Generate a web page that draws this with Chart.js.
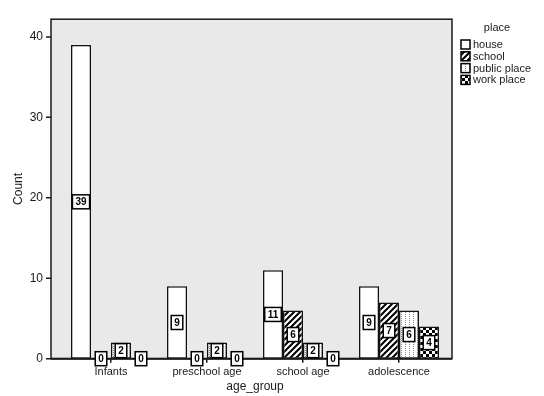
<!DOCTYPE html>
<html>
<head>
<meta charset="utf-8">
<script src="https://cdn.jsdelivr.net/npm/chart.js@4.4.0/dist/chart.umd.min.js"></script>
<style>
  html, body { margin: 0; padding: 0; background: #fff; }
</style>
</head>
<body>
<canvas id="chart" width="544" height="396"></canvas>
<script>
// data
const ageGroups = ['Infants', 'preschool age', 'school age', 'adolescence'];
const places = ['house', 'school', 'public place', 'work place'];
const houseCounts = [39, 9, 11, 9];
const schoolCounts = [0, 0, 6, 7];
const publicPlaceCounts = [2, 2, 2, 6];
const workPlaceCounts = [0, 0, 0, 4];
const yTicks = [0, 10, 20, 30, 40];
const yMax = 42.2;

const FONT = "'Liberation Sans', Arial, sans-serif";
const INK = '#1a1a1a';

// fill patterns like the SPSS output
function makePattern(kind) {
    const c = document.createElement('canvas');
    const w = kind === 'dots' ? 4 : 6;
    const h = kind === 'dots' ? 2 : 6;
    c.width = w; c.height = h;
    const g = c.getContext('2d');
    g.fillStyle = '#fff';
    g.fillRect(0, 0, w, h);
    if (kind === 'stripes') {
        g.strokeStyle = '#000';
        g.lineWidth = 2;
        g.beginPath();
        g.moveTo(-1, h + 1); g.lineTo(w + 1, -1);
        g.moveTo(-1, 1); g.lineTo(1, -1);
        g.moveTo(w - 1, h + 1); g.lineTo(w + 1, h - 1);
        g.stroke();
    } else if (kind === 'dots') {
        g.fillStyle = '#8a8a8a';
        g.fillRect(1, 0, 1, 1);
    } else if (kind === 'checks') {
        g.fillStyle = '#000';
        g.fillRect(0, 0, 3, 3);
        g.fillRect(3, 3, 3, 3);
    }
    return g.createPattern(c, 'repeat');
}

const fills = ['#ffffff', makePattern('stripes'), makePattern('dots'), makePattern('checks')];
const seriesData = [houseCounts, schoolCounts, publicPlaceCounts, workPlaceCounts];

// grey plot frame, extends a bit past the category range like SPSS
const framePlugin = {
    id: 'frame',
    beforeDraw(chart) {
        const { ctx, chartArea: a } = chart;
        const left = a.left - 12, right = a.right + 5;
        ctx.save();
        ctx.fillStyle = '#e9e9e9';
        ctx.fillRect(left, a.top, right - left, a.bottom - a.top);
        ctx.strokeStyle = INK;
        ctx.lineWidth = 1.5;
        ctx.strokeRect(left, a.top, right - left, a.bottom - a.top);
        // y tick marks on the frame edge
        const y = chart.scales.y;
        ctx.beginPath();
        yTicks.forEach(v => {
            const py = y.getPixelForValue(v);
            ctx.moveTo(left - 5, py);
            ctx.lineTo(left, py);
        });
        ctx.stroke();
        ctx.restore();
    },
    afterDatasetsDraw(chart) {
        const { ctx, chartArea: a } = chart;
        ctx.save();
        ctx.strokeStyle = INK;
        ctx.lineWidth = 2;
        ctx.beginPath();
        ctx.moveTo(a.left - 12, a.bottom);
        ctx.lineTo(a.right + 5, a.bottom);
        ctx.stroke();
        ctx.restore();
    }
};

// boxed count labels in the middle of each bar
const countLabels = {
    id: 'countLabels',
    afterDatasetsDraw(chart) {
        const { ctx } = chart;
        ctx.save();
        ctx.font = 'bold 10px ' + FONT;
        ctx.textAlign = 'center';
        ctx.textBaseline = 'middle';
        chart.data.datasets.forEach((ds, i) => {
            chart.getDatasetMeta(i).data.forEach((bar, j) => {
                const txt = String(ds.data[j]);
                const cx = bar.x;
                const cy = (bar.y + bar.base) / 2;
                const w = Math.max(ctx.measureText(txt).width + 6, 10);
                const h = 14;
                ctx.fillStyle = '#fff';
                ctx.fillRect(cx - w / 2, cy - h / 2, w, h);
                ctx.strokeStyle = '#000';
                ctx.lineWidth = 1.5;
                ctx.strokeRect(cx - w / 2, cy - h / 2, w, h);
                ctx.fillStyle = '#000';
                ctx.fillText(txt, cx, cy + 0.5);
            });
        });
        ctx.restore();
    }
};

// legend at the right, drawn by hand for exact placement
const sideLegend = {
    id: 'sideLegend',
    afterDraw(chart) {
        const { ctx } = chart;
        const x0 = chart.chartArea.right + 14;
        ctx.save();
        ctx.fillStyle = INK;
        ctx.font = '11px ' + FONT;
        ctx.textAlign = 'center';
        ctx.textBaseline = 'middle';
        ctx.fillText('place', 497, 27.5);
        ctx.textAlign = 'left';
        places.forEach((p, i) => {
            const cy = 44.5 + i * 11.8;
            ctx.fillStyle = fills[i];
            ctx.fillRect(x0, cy - 4.5, 9, 9);
            ctx.strokeStyle = '#000';
            ctx.lineWidth = 1.5;
            ctx.strokeRect(x0, cy - 4.5, 9, 9);
            ctx.fillStyle = INK;
            ctx.fillText(p, x0 + 12, cy + 0.5);
        });
        ctx.restore();
    }
};

new Chart(document.getElementById('chart'), {
    type: 'bar',
    data: {
        labels: ageGroups,
        datasets: places.map((p, i) => ({
            label: p,
            data: seriesData[i],
            backgroundColor: fills[i],
            borderColor: '#111',
            borderWidth: 1.5,
            borderSkipped: false,
            categoryPercentage: 0.833,
            barPercentage: 1
        }))
    },
    options: {
        responsive: false,
        animation: false,
        layout: { padding: { top: 10, right: 97, left: 0, bottom: 0 } },
        plugins: {
            legend: { display: false },
            tooltip: { enabled: false }
        },
        scales: {
            x: {
                afterFit(scale) { scale.height = 37.3; },
                grid: {
                    display: true,
                    drawOnChartArea: false,
                    offset: false,
                    tickLength: 4,
                    color: INK,
                    lineWidth: 1.5
                },
                border: { display: false },
                ticks: { color: INK, padding: 3, font: { family: FONT, size: 11 } },
                title: {
                    display: true,
                    text: 'age_group',
                    color: INK,
                    font: { family: FONT, size: 12 },
                    padding: { top: 0, bottom: 2 }
                }
            },
            y: {
                min: 0,
                max: yMax,
                afterFit(scale) { scale.width = 63; },
                afterBuildTicks(scale) { scale.ticks = yTicks.map(v => ({ value: v })); },
                grid: { display: false },
                border: { display: false },
                ticks: { color: INK, padding: 12, font: { family: FONT, size: 12 } },
                title: {
                    display: true,
                    text: 'Count',
                    color: INK,
                    font: { family: FONT, size: 12 },
                    padding: { top: 11, bottom: 0 }
                }
            }
        }
    },
    plugins: [framePlugin, countLabels, sideLegend]
});
</script>
</body>
</html>
